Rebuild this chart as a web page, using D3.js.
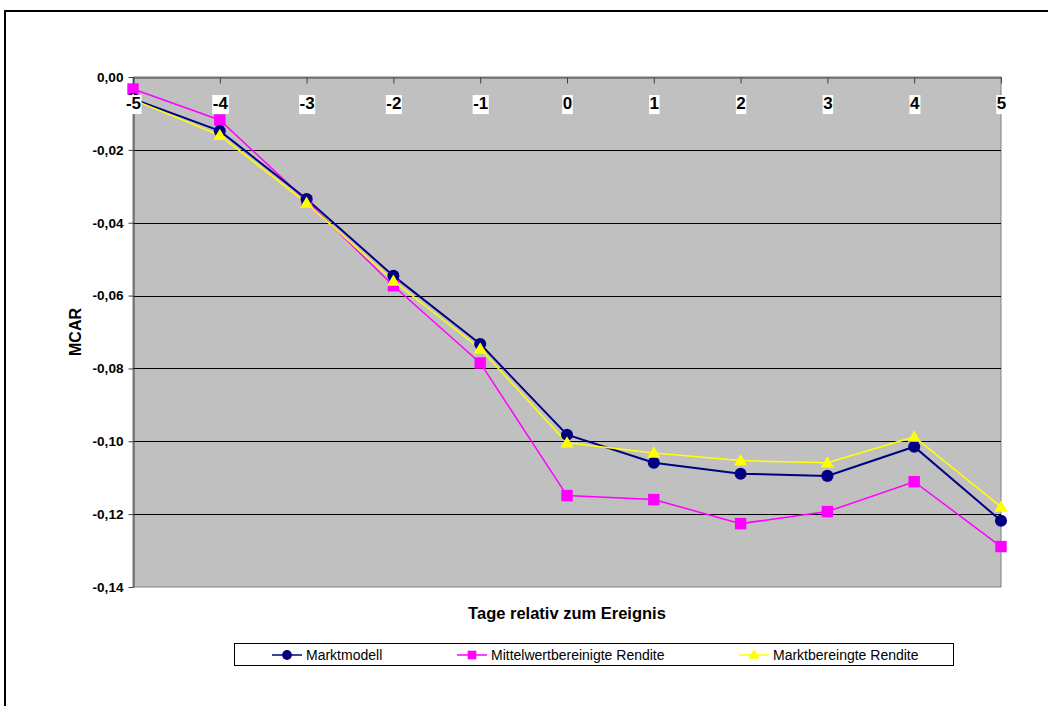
<!DOCTYPE html>
<html>
<head>
<meta charset="utf-8">
<script src="https://cdn.jsdelivr.net/npm/d3@7"></script>
<style>
  html, body { margin: 0; padding: 0; background: #fff; }
  svg { display: block; font-family: Arial, "Liberation Sans", sans-serif; }
</style>
</head>
<body>
<svg id="chart" width="1048" height="706"></svg>
<script>
// Event days relative to the announcement
const days = [-5, -4, -3, -2, -1, 0, 1, 2, 3, 4, 5];

// Mean cumulative abnormal returns per model
const marktmodell = [-0.0060, -0.0148, -0.0335, -0.0546, -0.0733, -0.0982, -0.1059, -0.1089, -0.1095, -0.1015, -0.1218];
const mittelwertbereinigt = [-0.0033, -0.0118, -0.0340, -0.0573, -0.0785, -0.1149, -0.1160, -0.1226, -0.1193, -0.1111, -0.1289];
const marktbereinigt = [-0.0062, -0.0160, -0.0346, -0.0560, -0.0746, -0.1004, -0.1032, -0.1053, -0.1059, -0.0988, -0.1180];

const yTicks = [0, -0.02, -0.04, -0.06, -0.08, -0.10, -0.12, -0.14];

const seriesNames = ["Marktmodell", "Mittelwertbereinigte Rendite", "Marktbereingte Rendite"];
const seriesColors = ["#000080", "#FF00FF", "#FFFF00"];
const seriesShapes = [d3.symbolCircle, d3.symbolSquare, d3.symbolTriangle];
const seriesValues = [marktmodell, mittelwertbereinigt, marktbereinigt];

const FONT = "Arial, 'Liberation Sans', sans-serif";
const svg = d3.select("#chart");

// outer chart frame
svg.append("rect")
  .attr("x", 5).attr("y", 11)
  .attr("width", 1100).attr("height", 800)
  .attr("fill", "#fff").attr("stroke", "#000").attr("stroke-width", 2);

const plot = { left: 133, right: 1001, top: 77, bottom: 587 };

const x = d3.scaleLinear().domain([-5, 5]).range([plot.left, plot.right]);
const y = d3.scaleLinear().domain([0, -0.14]).range([plot.top, plot.bottom]);

// plot area
svg.append("rect")
  .attr("x", plot.left).attr("y", plot.top)
  .attr("width", plot.right - plot.left).attr("height", plot.bottom - plot.top)
  .attr("fill", "#C0C0C0").attr("stroke", "#808080").attr("stroke-width", 1);

// horizontal gridlines
svg.append("g")
  .selectAll("line")
  .data(yTicks.filter(t => t !== 0 && t !== -0.14))
  .join("line")
  .attr("x1", plot.left).attr("x2", plot.right)
  .attr("y1", d => Math.round(y(d)) + 0.5).attr("y2", d => Math.round(y(d)) + 0.5)
  .attr("stroke", "#000").attr("stroke-width", 1);

// value axis
const fmt = v => (v === 0 ? "0,00" : d3.format(".2f")(v).replace("−", "-").replace(".", ","));
const yAxis = svg.append("g")
  .attr("transform", `translate(${plot.left + 0.5},0)`)
  .call(d3.axisLeft(y).tickValues(yTicks).tickSize(5).tickSizeOuter(0).tickPadding(5).tickFormat(fmt));
yAxis.select(".domain").attr("stroke", "#404040");
yAxis.selectAll(".tick line").attr("stroke", "#404040");
yAxis.selectAll(".tick text")
  .attr("font-size", 13.6).attr("font-weight", "bold").attr("fill", "#000")
  .attr("font-family", FONT);

// series lines and markers
const line = d3.line().x((d, i) => x(days[i])).y(d => y(d));
const order = [1, 0, 2];
order.forEach(si => {
  svg.append("path")
    .datum(seriesValues[si])
    .attr("d", line)
    .attr("fill", "none")
    .attr("stroke", seriesColors[si])
    .attr("stroke-width", si === 0 ? 2 : 1.5);
});
order.forEach(si => {
  const sym = d3.symbol().type(seriesShapes[si]).size(si === 2 ? 75 : (si === 1 ? 130 : 115));
  svg.append("g")
    .selectAll("path")
    .data(seriesValues[si])
    .join("path")
    .attr("transform", (d, i) => `translate(${x(days[i])},${y(d) + (si === 2 ? 1 : 0)})`)
    .attr("d", sym)
    .attr("fill", seriesColors[si]);
});

// category axis along the zero line, labels inside the plot on top of the series
const xAxis = svg.append("g")
  .attr("transform", `translate(0,${plot.top + 0.5})`)
  .call(d3.axisBottom(x).tickValues(days).tickSize(6).tickSizeOuter(0).tickPadding(13.5).tickFormat(d => String(d)));
xAxis.select(".domain").attr("stroke", "#404040");
xAxis.selectAll(".tick line").attr("stroke", "#404040");
xAxis.selectAll(".tick text")
  .attr("font-size", 17).attr("font-weight", "bold").attr("fill", "#000")
  .attr("font-family", FONT);
xAxis.selectAll(".tick").each(function () {
  const t = d3.select(this).select("text");
  const bb = t.node().getBBox();
  d3.select(this).insert("rect", "text")
    .attr("x", bb.x - 0.5).attr("y", bb.y + 1)
    .attr("width", bb.width + 1).attr("height", bb.height)
    .attr("fill", "#fff");
});

// axis titles
svg.append("text")
  .attr("transform", `translate(81,${(plot.top + plot.bottom) / 2}) rotate(-90)`)
  .attr("text-anchor", "middle")
  .attr("font-size", 16).attr("font-weight", "bold")
  .text("MCAR");

svg.append("text")
  .attr("x", (plot.left + plot.right) / 2).attr("y", 619)
  .attr("text-anchor", "middle")
  .attr("font-size", 16.5).attr("font-weight", "bold")
  .text("Tage relativ zum Ereignis");

// legend
const legend = svg.append("g");
legend.append("rect")
  .attr("x", 234.5).attr("y", 643.5).attr("width", 719).attr("height", 22)
  .attr("fill", "#fff").attr("stroke", "#000").attr("stroke-width", 1);
const legendX = [272, 457, 739];
seriesNames.forEach((name, si) => {
  const g = legend.append("g").attr("transform", `translate(${legendX[si]},655)`);
  g.append("line").attr("x1", 0).attr("x2", 30).attr("y1", 0).attr("y2", 0)
    .attr("stroke", seriesColors[si]).attr("stroke-width", 1.5);
  g.append("path")
    .attr("transform", `translate(15,${si === 2 ? 0.5 : 0})`)
    .attr("d", d3.symbol().type(seriesShapes[si]).size(si === 2 ? 55 : 75)())
    .attr("fill", seriesColors[si]);
  g.append("text").attr("x", 34).attr("y", 5)
    .attr("font-size", 14).attr("fill", "#000")
    .text(name);
});
</script>
</body>
</html>
